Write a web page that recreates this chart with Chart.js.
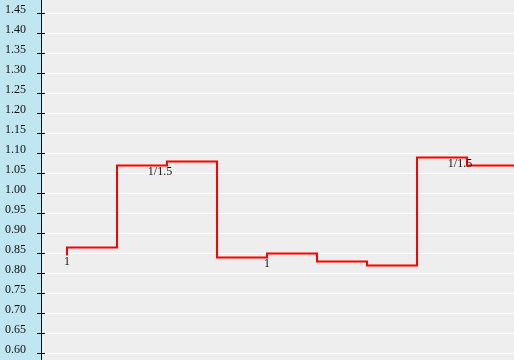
<!DOCTYPE html>
<html>
<head>
<meta charset="utf-8">
<script src="https://cdn.jsdelivr.net/npm/chart.js@4/dist/chart.umd.min.js"></script>
<style>
    html, body { margin: 0; padding: 0; background: #eeeeee; }
    #wrap { width: 514px; height: 360px; }
</style>
</head>
<body>
<div id="wrap"><canvas id="stepChart"></canvas></div>
<script>
// periodos y valores de la serie
const periods = [1, 2, 3, 4, 5, 6, 7, 8, 9, 10];
const values = [0.845, 0.865, 1.07, 1.08, 0.84, 0.85, 0.83, 0.82, 1.09, 1.07];
const pointLabels = ['1', '', '1/1.5', '', '1', '', '', '', '1/1.5', ''];
const yTicks = [0.60, 0.65, 0.70, 0.75, 0.80, 0.85, 0.90, 0.95, 1.00, 1.05,
                1.10, 1.15, 1.20, 1.25, 1.30, 1.35, 1.40, 1.45];

const serif = '"Liberation Serif", "Times New Roman", serif';

// fondo gris del area y franja azul del eje
const backgroundPlugin = {
    id: 'fondo',
    beforeDraw(chart) {
        const { ctx, chartArea } = chart;
        ctx.save();
        ctx.fillStyle = '#eeeeee';
        ctx.fillRect(0, 0, chart.width, chart.height);
        ctx.fillStyle = '#c0e6f1';
        ctx.fillRect(0, 0, chartArea.left, chart.height);
        ctx.restore();
    }
};

// marcas del eje que cruzan la linea, y etiquetas de los puntos
const marksPlugin = {
    id: 'marcas',
    afterDraw(chart) {
        const { ctx, chartArea } = chart;
        const y = chart.scales.y;
        ctx.save();
        ctx.strokeStyle = '#000';
        ctx.lineWidth = 1;
        y.ticks.forEach(t => {
            const py = Math.round(y.getPixelForValue(t.value) - 0.5) + 0.5;
            ctx.beginPath();
            ctx.moveTo(chartArea.left - 4, py);
            ctx.lineTo(chartArea.left + 4, py);
            ctx.stroke();
        });

        const meta = chart.getDatasetMeta(0);
        ctx.font = '12px ' + serif;
        ctx.fillStyle = '#111';
        ctx.textAlign = 'center';
        ctx.textBaseline = 'top';
        meta.data.forEach((p, i) => {
            const label = pointLabels[i];
            if (!label) return;
            const shift = label.length > 1 ? -7 : 0;
            ctx.fillText(label, p.x + shift, p.y + 0.5);
        });
        ctx.restore();
    }
};

const ctx = document.getElementById('stepChart').getContext('2d');
new Chart(ctx, {
    type: 'line',
    data: {
        datasets: [{
            data: periods.map((p, i) => ({ x: p, y: values[i] })),
            borderColor: '#ff0000',
            borderWidth: 2,
            pointRadius: 0,
            stepped: 'after',
            fill: false
        }]
    },
    options: {
        responsive: true,
        maintainAspectRatio: false,
        animation: false,
        layout: { padding: 0 },
        plugins: {
            legend: { display: false },
            tooltip: { enabled: false }
        },
        scales: {
            x: {
                type: 'linear',
                display: false,
                min: 0.48,
                max: 9.94
            },
            y: {
                type: 'linear',
                position: 'left',
                min: 0.58375,
                max: 1.48375,
                afterBuildTicks: scale => {
                    scale.ticks = yTicks.map(v => ({ value: v }));
                },
                afterFit: scale => {
                    scale.width = 41;
                    scale.paddingTop = 0;
                    scale.paddingBottom = 0;
                },
                border: { color: '#000', width: 1 },
                grid: { color: '#ffffff', lineWidth: 1, drawTicks: false },
                ticks: {
                    padding: 15,
                    labelOffset: -4,
                    color: '#111',
                    font: { family: serif, size: 12 },
                    callback: v => Number(v).toFixed(2)
                }
            }
        }
    },
    plugins: [backgroundPlugin, marksPlugin]
});
</script>
</body>
</html>
